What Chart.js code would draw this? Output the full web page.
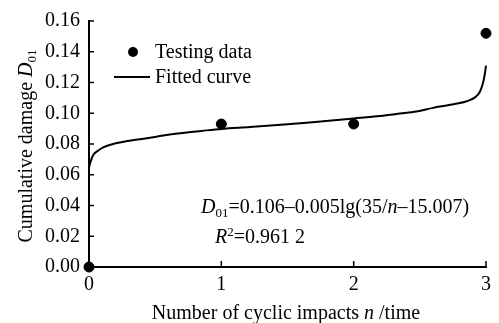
<!DOCTYPE html>
<html>
<head>
<meta charset="utf-8">
<script src="https://cdn.jsdelivr.net/npm/chart.js@4.4.1/dist/chart.umd.min.js"></script>
<style>
  html, body { margin: 0; padding: 0; background: #fff; }
  #wrap { width: 499px; height: 323px; }
</style>
</head>
<body>
<div id="wrap"><canvas id="myChart" width="499" height="323"></canvas></div>
<script>
'use strict';

// testing data
const testN = [0, 1, 2, 3];
const testD = [0, 0.093, 0.093, 0.152];

// fitted curve
const fitN = [0, 0.01, 0.033, 0.07, 0.108, 0.17, 0.234, 0.33, 0.435, 0.56, 0.687, 0.85, 1.0,
  1.216, 1.5, 1.75, 2.0, 2.2, 2.35, 2.475, 2.6, 2.73, 2.853, 2.92, 2.953, 2.975, 2.99, 3.0];
const fitD = [0.0645, 0.068, 0.073, 0.0758, 0.0778, 0.0797, 0.081, 0.0825, 0.0837, 0.0855, 0.087, 0.0885, 0.0898,
  0.091, 0.0928, 0.0947, 0.0966, 0.0982, 0.0998, 0.1012, 0.1035, 0.1055, 0.1078, 0.1105, 0.1138, 0.119, 0.125, 0.131];

const xTicks = [0, 1, 2, 3];
const yTicks = [0, 0.02, 0.04, 0.06, 0.08, 0.10, 0.12, 0.14, 0.16];

const FONT = '"Liberation Serif", "Times New Roman", serif';
const SIZE = 20;

function toPoints(xs, ys) {
  const pts = [];
  for (let i = 0; i < xs.length; i++) {
    pts.push({ x: xs[i], y: ys[i] });
  }
  return pts;
}

// draws text made of pieces: italic, subscript, superscript
function drawRich(ctx, parts, x, y, align) {
  let total = 0;
  const widths = [];
  for (const p of parts) {
    const sz = (p.sub || p.sup) ? SIZE * 0.65 : SIZE;
    ctx.font = (p.italic ? 'italic ' : '') + sz + 'px ' + FONT;
    const w = ctx.measureText(p.t).width;
    widths.push(w);
    total += w;
  }
  let cx = align === 'center' ? x - total / 2 : x;
  parts.forEach(function (p, i) {
    const sz = (p.sub || p.sup) ? SIZE * 0.65 : SIZE;
    ctx.font = (p.italic ? 'italic ' : '') + sz + 'px ' + FONT;
    let dy = 0;
    if (p.sub) dy = 4;
    if (p.sup) dy = -7;
    ctx.fillText(p.t, cx, y + dy);
    cx += widths[i];
  });
}

const extras = {
  id: 'extras',
  afterDraw(chart) {
    const ctx = chart.ctx;
    const xs = chart.scales.x;
    const ys = chart.scales.y;
    const area = chart.chartArea;
    ctx.save();
    ctx.strokeStyle = '#000';
    ctx.fillStyle = '#000';
    ctx.lineWidth = 1.5;

    // inward tick marks
    for (const v of yTicks) {
      const py = ys.getPixelForValue(v);
      ctx.beginPath();
      ctx.moveTo(area.left, py);
      ctx.lineTo(area.left + 5, py);
      ctx.stroke();
    }
    for (const v of xTicks) {
      const px = xs.getPixelForValue(v);
      ctx.beginPath();
      ctx.moveTo(px, area.bottom);
      ctx.lineTo(px, area.bottom - 6);
      ctx.stroke();
    }

    ctx.textBaseline = 'alphabetic';

    // x axis title
    drawRich(ctx, [
      { t: 'Number of cyclic impacts ' },
      { t: 'n', italic: true },
      { t: ' /time' }
    ], 286, 319, 'center');

    // y axis title
    ctx.save();
    ctx.translate(32, 146);
    ctx.rotate(-Math.PI / 2);
    drawRich(ctx, [
      { t: 'Cumulative damage ' },
      { t: 'D', italic: true },
      { t: '01', sub: true }
    ], 0, 0, 'center');
    ctx.restore();

    // legend
    ctx.beginPath();
    ctx.arc(133, 52, 5, 0, Math.PI * 2);
    ctx.fill();
    ctx.lineWidth = 2;
    ctx.beginPath();
    ctx.moveTo(114, 77);
    ctx.lineTo(150, 77);
    ctx.stroke();
    drawRich(ctx, [{ t: 'Testing data' }], 155, 58, 'left');
    drawRich(ctx, [{ t: 'Fitted curve' }], 155, 83, 'left');

    // fitted equation
    drawRich(ctx, [
      { t: 'D', italic: true },
      { t: '01', sub: true },
      { t: '=0.106\u20130.005lg(35/' },
      { t: 'n', italic: true },
      { t: '\u201315.007)' }
    ], 201, 213, 'left');
    drawRich(ctx, [
      { t: 'R', italic: true },
      { t: '2', sup: true },
      { t: '=0.961 2' }
    ], 215, 243, 'left');

    ctx.restore();
  }
};

const config = {
  type: 'scatter',
  data: {
    datasets: [
      {
        label: 'Fitted curve',
        data: toPoints(fitN, fitD),
        showLine: true,
        borderColor: '#000',
        borderWidth: 2,
        pointRadius: 0,
        cubicInterpolationMode: 'monotone',
        clip: false
      },
      {
        label: 'Testing data',
        data: toPoints(testN, testD),
        backgroundColor: '#000',
        borderColor: '#000',
        pointRadius: 5,
        clip: false
      }
    ]
  },
  options: {
    responsive: false,
    animation: false,
    devicePixelRatio: 1,
    layout: { padding: { top: 18, right: 13, bottom: 0, left: 0 } },
    plugins: { legend: { display: false }, tooltip: { enabled: false } },
    scales: {
      x: {
        type: 'linear',
        min: 0,
        max: 3,
        afterBuildTicks(scale) { scale.ticks = xTicks.map(v => ({ value: v })); },
        afterFit(scale) { scale.height = 56; },
        grid: { display: false, drawTicks: false },
        border: { display: true, color: '#000', width: 2 },
        ticks: { color: '#000', padding: 6, font: { family: FONT, size: SIZE }, callback: v => String(v) }
      },
      y: {
        type: 'linear',
        min: 0,
        max: 0.16,
        afterBuildTicks(scale) { scale.ticks = yTicks.map(v => ({ value: v })); },
        afterFit(scale) { scale.width = 89; },
        grid: { display: false, drawTicks: false },
        border: { display: true, color: '#000', width: 2 },
        ticks: { color: '#000', padding: 9, font: { family: FONT, size: SIZE }, callback: v => v.toFixed(2) }
      }
    }
  },
  plugins: [extras]
};

const myChart = new Chart(document.getElementById('myChart'), config);
</script>
</body>
</html>
